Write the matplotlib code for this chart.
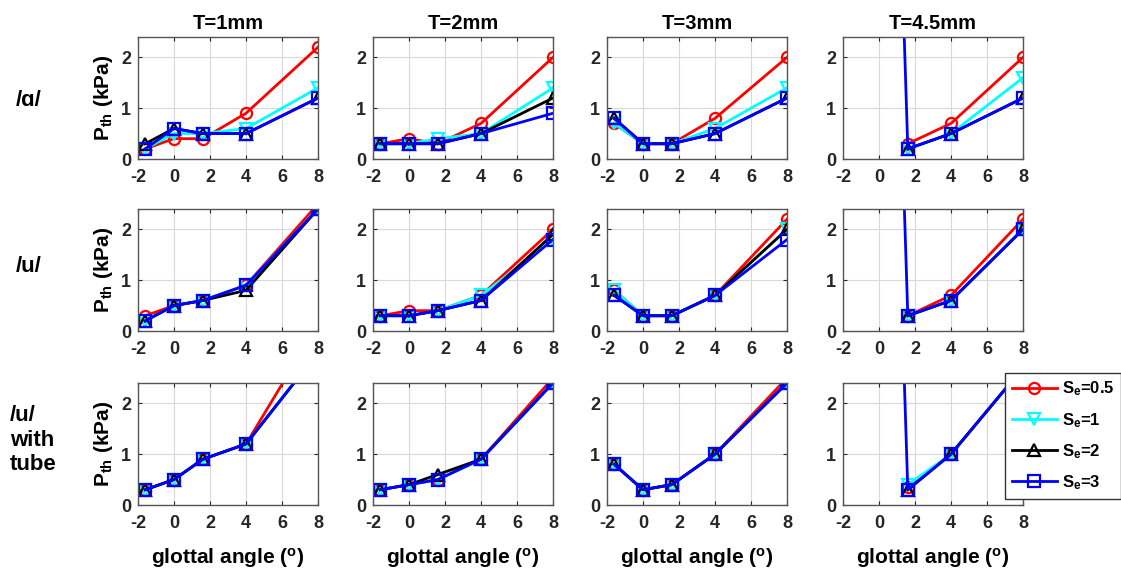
import numpy as np
import matplotlib.pyplot as plt

plt.rcParams['font.family'] = ['Liberation Sans', 'DejaVu Sans']
plt.rcParams['font.weight'] = 'bold'
plt.rcParams['mathtext.default'] = 'regular'
plt.rcParams['axes.unicode_minus'] = False

# glottal angles (deg)
angle = [-1.6, 0, 1.6, 4, 8]
thickness = ['T=1mm', 'T=2mm', 'T=3mm', 'T=4.5mm']
rows = ['/\u0251/', '/u/', '/u/\nwith\ntube']
nan = np.nan

# P_th (kPa), one list per thickness column
a_se05 = [[0.2, 0.4, 0.4, 0.9, 2.2], [0.3, 0.4, 0.3, 0.7, 2.0], [0.7, 0.3, 0.3, 0.8, 2.0], [nan, nan, 0.3, 0.7, 2.0]]
a_se1 = [[0.2, 0.5, 0.5, 0.6, 1.4], [0.3, 0.3, 0.4, 0.5, 1.4], [0.7, 0.3, 0.3, 0.6, 1.4], [nan, nan, 0.2, 0.5, 1.6]]
a_se2 = [[0.3, 0.6, 0.5, 0.5, 1.2], [0.3, 0.3, 0.3, 0.5, 1.2], [0.8, 0.3, 0.3, 0.5, 1.2], [nan, nan, 0.2, 0.5, 1.2]]
a_se3 = [[0.2, 0.6, 0.5, 0.5, 1.2], [0.3, 0.3, 0.3, 0.5, 0.9], [0.8, 0.3, 0.3, 0.5, 1.2], [nan, 18, 0.2, 0.5, 1.2]]

u_se05 = [[0.3, 0.5, 0.6, 0.9, 2.5], [0.3, 0.4, 0.4, 0.7, 2.0], [0.8, 0.3, 0.3, 0.7, 2.2], [nan, nan, 0.3, 0.7, 2.2]]
u_se1 = [[0.2, 0.5, 0.6, 0.9, 2.4], [0.3, 0.3, 0.4, 0.7, 1.8], [0.8, 0.3, 0.3, 0.7, 2.0], [nan, nan, 0.3, 0.6, 2.0]]
u_se2 = [[0.2, 0.5, 0.6, 0.8, 2.4], [0.3, 0.3, 0.4, 0.6, 1.9], [0.7, 0.3, 0.3, 0.7, 2.0], [nan, nan, 0.3, 0.6, 2.0]]
u_se3 = [[0.2, 0.5, 0.6, 0.9, 2.4], [0.3, 0.3, 0.4, 0.6, 1.8], [0.7, 0.3, 0.3, 0.7, 1.8], [nan, 18, 0.3, 0.6, 2.0]]

ut_se05 = [[0.3, 0.5, 0.9, 1.2, 3.55], [0.3, 0.4, 0.5, 0.9, 2.5], [0.8, 0.3, 0.4, 1.0, 2.5], [nan, nan, 0.35, 1.0, 2.7]]
ut_se1 = [[0.3, 0.5, 0.9, 1.2, 3.0], [0.3, 0.4, 0.5, 0.9, 2.4], [0.8, 0.3, 0.4, 1.0, 2.4], [nan, nan, 0.4, 1.0, 2.7]]
ut_se2 = [[0.3, 0.5, 0.9, 1.2, 3.0], [0.3, 0.4, 0.6, 0.9, 2.4], [0.8, 0.3, 0.4, 1.0, 2.4], [nan, nan, 0.3, 1.0, 2.7]]
ut_se3 = [[0.3, 0.5, 0.9, 1.2, 3.0], [0.3, 0.4, 0.5, 0.9, 2.4], [0.8, 0.3, 0.4, 1.0, 2.4], [nan, 18, 0.3, 1.0, 2.7]]

data = [[a_se05, a_se1, a_se2, a_se3],
        [u_se05, u_se1, u_se2, u_se3],
        [ut_se05, ut_se1, ut_se2, ut_se3]]
series_labels = ['S$_e$=0.5', 'S$_e$=1', 'S$_e$=2', 'S$_e$=3']
styles = [('#ff0000', 'o'), ('#00ffff', 'v'), ('#000000', '^'), ('#0000ff', 's')]

W, H = 1121, 569
fig = plt.figure(figsize=(W / 100, H / 100), dpi=100)

col_left = [138, 373, 607, 843]
row_top = [37, 209, 383]
ax_w, ax_h = 180, 122

for r in range(3):
    for c in range(4):
        x0, y0 = col_left[c], row_top[r]
        ax = fig.add_axes([x0 / W, 1 - (y0 + ax_h) / H, ax_w / W, ax_h / H])
        handles = []
        for s in range(4):
            col, mk = styles[s]
            h, = ax.plot(angle, data[r][s][c], color=col, marker=mk, lw=2,
                         ms=8, mfc='none', mew=1.6, label=series_labels[s])
            handles.append(h)
        ax.set_xlim(-2, 8)
        ax.set_ylim(0, 2.4)
        ax.set_xticks([-2, 0, 2, 4, 6, 8])
        ax.set_yticks([0, 1, 2])
        ax.grid(True, color='#d8d8d8', lw=0.8)
        ax.set_axisbelow(True)
        ax.tick_params(direction='in', top=True, right=True, length=3,
                       labelsize=13, colors='#262626')
        ax.tick_params(axis='x', pad=7)
        ax.tick_params(axis='y', pad=5)
        for lab in ax.get_xticklabels() + ax.get_yticklabels():
            lab.set_fontweight('bold')
        for sp in ax.spines.values():
            sp.set_color('#555555')
            sp.set_linewidth(1)
        if r == 0:
            ax.set_title(thickness[c], fontsize=14.5, fontweight='bold', pad=6)
        if c == 0:
            ax.set_ylabel('P$_{th}$ (kPa)', fontsize=15, fontweight='bold', labelpad=4)
        if r == 2:
            ax.set_xlabel('glottal angle ($^{o}$)', fontsize=15, fontweight='bold', labelpad=10)

fig.text(29 / W, 1 - 100 / H, rows[0], fontsize=16, fontweight='bold', ha='center', va='center')
fig.text(29 / W, 1 - 266 / H, rows[1], fontsize=16, fontweight='bold', ha='center', va='center')
fig.text(10 / W, 1 - 440 / H, rows[2], fontsize=16, fontweight='bold', ha='left', va='center',
         linespacing=1.2)

leg = fig.legend(handles=handles, loc='upper left', bbox_to_anchor=(1005 / W, 1 - 373 / H),
                 fontsize=12, frameon=True, fancybox=False, framealpha=1, edgecolor='#333333',
                 handlelength=2.7, handletextpad=0.3, labelspacing=0.75, borderpad=0.4,
                 borderaxespad=0)
leg.get_frame().set_linewidth(1)
for t in leg.get_texts():
    t.set_fontweight('bold')

fig.savefig('out.png', dpi=100)
